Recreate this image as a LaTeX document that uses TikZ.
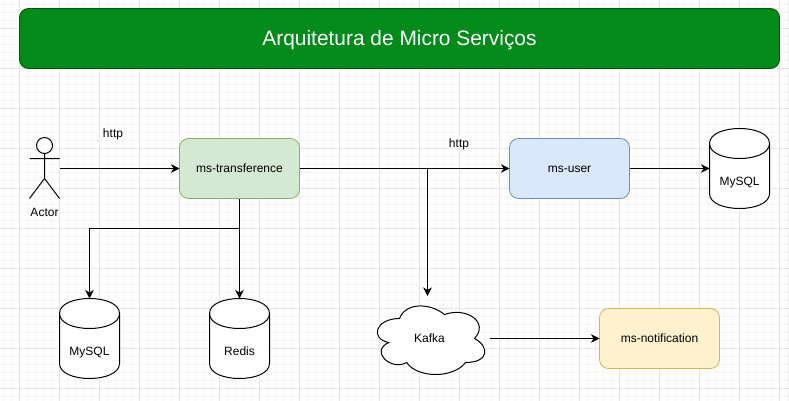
\documentclass[tikz,border=0pt]{standalone}
\usepackage{fontspec}
\setmainfont{Liberation Sans}
\usetikzlibrary{arrows.meta}
\definecolor{gminor}{HTML}{F5F5F5}
\definecolor{gmajor}{HTML}{E6E6E6}
\definecolor{titlefill}{HTML}{028A1B}
\definecolor{titleline}{HTML}{005700}
\definecolor{trline}{HTML}{82B366}
\definecolor{trfill}{HTML}{D5E8D4}
\definecolor{userline}{HTML}{6C8EBF}
\definecolor{userfill}{HTML}{DAE8FC}
\definecolor{notifline}{HTML}{D6B656}
\definecolor{notiffill}{HTML}{FFF2CC}
\newcommand{\drop}[2]{\smash{\raisebox{-#1pt}{#2}}}
\tikzset{
  x=1pt,y=-1pt,
  every node/.style={inner sep=0pt,outer sep=0pt,font=\fontsize{12}{14}\selectfont,text=black},
  svc/.style={rectangle,draw,rounded corners=9pt,line width=0.8pt,minimum width=120pt,minimum height=60pt},
  ghost/.style={rectangle,minimum width=#1,minimum height=80pt},
  shapeline/.style={line width=1pt,draw=black,fill=white},
  conn/.style={line width=1pt,-{Stealth[length=8.5pt,width=8.5pt,inset=2.5pt]}}
}
\newcommand{\mycyl}[4]{%
  \path[shapeline] (#2-30,#3-25) .. controls (#2-30,#3-45) and (#2+30,#3-45) .. (#2+30,#3-25)
    -- (#2+30,#3+25) .. controls (#2+30,#3+45) and (#2-30,#3+45) .. (#2-30,#3+25) -- cycle;
  \draw[line width=1pt] (#2-30,#3-25) .. controls (#2-30,#3-5) and (#2+30,#3-5) .. (#2+30,#3-25);
  \node[ghost=60pt] (#1) at (#2,#3) {};
  \node (#1-label) at (#2,#3+13) {\drop{4.2}{#4}};
}
\begin{document}
\begin{tikzpicture}
\useasboundingbox (0,0) rectangle (789,401);
\fill[white] (0,0) rectangle (789,401);
% grid
\foreach \i in {0,...,99} {\draw[gminor,line width=0.8pt] (3.5+8*\i,0) -- (3.5+8*\i,401);}
\foreach \i in {0,...,50} {\draw[gminor,line width=0.8pt] (0,4.5+8*\i) -- (789,4.5+8*\i);}
\foreach \i in {0,...,19} {\draw[gmajor,line width=0.8pt] (19.5+40*\i,0) -- (19.5+40*\i,401);}
\foreach \i in {0,...,9} {\draw[gmajor,line width=0.8pt] (0,28.5+40*\i) -- (789,28.5+40*\i);}
% title
\node[svc,draw=titleline,fill=titlefill,minimum width=760pt,text=white,font=\fontsize{20.9}{25}\selectfont] (title) at (399.5,38.5) {\drop{7}{Arquitetura de Micro Serviços}};
% actor
\draw[line width=1pt,fill=white] (44.5,145.5) circle[radius=8];
\draw[line width=1pt] (44.5,153.5) -- (44.5,178.5) (29.5,158.5) -- (59.5,158.5)
   (29.5,198.5) -- (44.5,178.5) -- (59.5,198.5);
\node[rectangle,minimum width=30pt,minimum height=60pt] (actor) at (44.5,168.5) {};
\node (actorlabel) at (44.5,212) {\drop{4.2}{Actor}};
% services
\node[svc,draw=trline,fill=trfill] (tr) at (239.5,168.5) {\drop{4.2}{ms-transference}};
\node[svc,draw=userline,fill=userfill] (user) at (569.5,168.5) {\drop{4.2}{ms-user}};
\node[svc,draw=notifline,fill=notiffill] (notif) at (659.5,338.5) {\drop{4.2}{ms-notification}};
% databases
\mycyl{dbuser}{739.5}{168.5}{MySQL}
\mycyl{dbtr}{89.5}{338.5}{MySQL}
\mycyl{redis}{239.5}{338.5}{Redis}
% cloud
\path[shapeline] (399.5,318.5)
  .. controls (375.5,318.5) and (369.5,338.5) .. (388.7,342.5)
  .. controls (369.5,351.3) and (391.1,371.3) .. (406.7,362.5)
  .. controls (417.5,378.5) and (453.5,378.5) .. (465.5,362.5)
  .. controls (489.5,362.5) and (489.5,346.5) .. (474.5,338.5)
  .. controls (489.5,322.5) and (466.7,306.5) .. (444.5,314.5)
  .. controls (429.5,302.5) and (405.5,302.5) .. (399.5,318.5) -- cycle;
\node[ghost=120pt] (kafka) at (429.5,338.5) {\drop{4.2}{Kafka}};
\coordinate (kafkatop) at (427.5,296);
% labels
\node (http1) at (113,133) {\drop{4.2}{http}};
\node (http2) at (459,143.5) {\drop{4.2}{http}};
% connectors
\draw[conn] (actor.east) -- (tr.west);
\draw[conn] (tr.east) -- (user.west);
\draw[conn] (user.east) -- (dbuser.west);
\draw[conn] (tr.east -| kafkatop) -- (kafkatop);
\draw[conn] (kafka.east) -- (notif.west);
\draw[conn] (tr.south) -- (redis.north);
\draw[conn] (tr.south |- 0,228.5) -| (dbtr.north);
\end{tikzpicture}
\end{document}
